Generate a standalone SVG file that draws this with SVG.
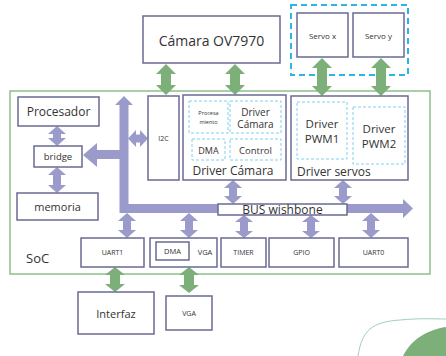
<svg xmlns="http://www.w3.org/2000/svg" width="446" height="356" viewBox="0 0 446 356">
  <style>
    .box { fill: #ffffff; stroke: #6a6a92; stroke-width: 1.5; }
    .sub { fill: #ffffff; stroke: #7fd2f0; stroke-width: 1; stroke-dasharray: 3 2; }
    .grp { fill: none; stroke: #2cb4e6; stroke-width: 2; stroke-dasharray: 6 4; }
    .soc { fill: none; stroke: #8cc088; stroke-width: 1.5; }
    .bus { fill: #9a9acb; }
    .ext { fill: #7daf78; }
    text { font-family: "Open Sans", "Noto Sans", "Liberation Sans", sans-serif; fill: #333333; text-anchor: middle; dominant-baseline: central; }
    .l { text-anchor: start; }
  </style>

  <!-- SoC boundary -->
  <rect class="soc" x="10" y="91" width="420" height="183"/>
  <text class="l" x="26" y="258" font-size="13">SoC</text>

  <!-- servo group outline -->
  <rect class="grp" x="291" y="5" width="117" height="70"/>

  <!-- corner decoration -->
  <path d="M358,356 C362,330 372,322 400,320 C420,318 435,319 446,319" fill="none" stroke="#9fcfc0" stroke-width="1"/>
  <path d="M403,356 C412,338 428,330 446,327 L446,356 Z" fill="#7daf78"/>

  <g id="connectors">
    <!-- system bus: vertical trunk, horizontal wishbone, branch to bridge -->
    <path class="bus" d="M124,96 L133,105 L128.5,105 L128.5,204 L403,204 L403,199 L413,208.5 L403,218 L403,213 L119.5,213 L119.5,159 L97,159 L97,167 L83,155 L97,143 L97,150 L119.5,150 L119.5,105 L115,105 Z"/>
    <!-- trunk to I2C -->
    <path class="bus" d="M128,138.5 L136,130 L136,134.5 L140,134.5 L140,130 L148,138.5 L140,147 L140,142.5 L136,142.5 L136,147 Z"/>
    <!-- Procesador to bridge -->
    <path class="bus" d="M57,126 L66,134 L61,134 L61,138 L66,138 L57,146 L48,138 L53,138 L53,134 L48,134 Z"/>
    <!-- bridge to memoria -->
    <path class="bus" d="M57,167 L66,175 L61,175 L61,185 L66,185 L57,193 L48,185 L53,185 L53,175 L48,175 Z"/>
    <!-- drivers to bus -->
    <path class="bus" d="M233,180 L242,188 L237,188 L237,196 L242,196 L233,204 L224,196 L229,196 L229,188 L224,188 Z"/>
    <path class="bus" d="M343,180 L352,188 L347,188 L347,196 L352,196 L343,204 L334,196 L339,196 L339,188 L334,188 Z"/>
    <!-- bus to peripherals -->
    <path class="bus" d="M127,213 L136,221 L131,221 L131,230 L136,230 L127,238 L118,230 L123,230 L123,221 L118,221 Z"/>
    <path class="bus" d="M189,213 L198,221 L193,221 L193,230 L198,230 L189,238 L180,230 L185,230 L185,221 L180,221 Z"/>
    <path class="bus" d="M244,215 L253,222 L248,222 L248,231 L253,231 L244,238 L235,231 L240,231 L240,222 L235,222 Z"/>
    <path class="bus" d="M311,215 L320,222 L315,222 L315,231 L320,231 L311,238 L302,231 L307,231 L307,222 L302,222 Z"/>
    <path class="bus" d="M371,213 L380,221 L375,221 L375,230 L380,230 L371,238 L362,230 L367,230 L367,221 L362,221 Z"/>

    <!-- external links -->
    <path class="ext" d="M166,64 L176,74 L171,74 L171,85 L176,85 L166,95 L156,85 L161,85 L161,74 L156,74 Z"/>
    <path class="ext" d="M235,64 L245,74 L240,74 L240,85 L245,85 L235,95 L225,85 L230,85 L230,74 L225,74 Z"/>
    <path class="ext" d="M322,58 L332,68 L327,68 L327,86 L332,86 L322,96 L312,86 L317,86 L317,68 L312,68 Z"/>
    <path class="ext" d="M381,58 L391,68 L386,68 L386,86 L391,86 L381,96 L371,86 L376,86 L376,68 L371,68 Z"/>
    <path class="ext" d="M115,267 L125,275 L120,275 L120,284 L125,284 L115,292 L105,284 L110,284 L110,275 L105,275 Z"/>
    <path class="ext" d="M189,267 L199,275 L194,275 L194,285 L199,285 L189,293 L179,285 L184,285 L184,275 L179,275 Z"/>
  </g>

  <g id="camara">
    <rect class="box" x="143" y="16" width="137" height="47"/>
    <text x="211.5" y="40" font-size="14">Cámara OV7970</text>
  </g>
  <g id="servo-x">
    <rect class="box" x="297" y="13" width="51" height="44"/>
    <text x="322.5" y="35" font-size="8">Servo x</text>
  </g>
  <g id="servo-y">
    <rect class="box" x="353" y="13" width="51" height="44"/>
    <text x="378.5" y="35" font-size="8">Servo y</text>
  </g>

  <g id="procesador">
    <rect class="box" x="18" y="97" width="81" height="29"/>
    <text x="58.5" y="111.5" font-size="12">Procesador</text>
  </g>
  <g id="bridge">
    <rect class="box" x="34" y="146" width="48" height="21"/>
    <text x="58" y="156.5" font-size="9.5">bridge</text>
  </g>
  <g id="memoria">
    <rect class="box" x="17" y="193" width="81" height="27"/>
    <text x="57.5" y="206.5" font-size="11">memoria</text>
  </g>

  <g id="i2c">
    <rect class="box" x="148" y="96" width="31" height="84"/>
    <text x="163.5" y="138" font-size="7">I2C</text>
  </g>

  <g id="driver-camara">
    <rect class="box" x="183" y="95" width="103" height="85"/>
    <rect class="sub" x="189" y="101" width="39" height="32"/>
    <text x="208.5" y="113" font-size="5.5">Procesa</text>
    <text x="208.5" y="121.5" font-size="5.5">miento</text>
    <rect class="sub" x="230" y="101" width="51" height="32"/>
    <text x="255.5" y="111.5" font-size="10">Driver</text>
    <text x="255.5" y="124" font-size="10">Cámara</text>
    <rect class="sub" x="192" y="139" width="33" height="21"/>
    <text x="208.5" y="150" font-size="9">DMA</text>
    <rect class="sub" x="230" y="139" width="51" height="21"/>
    <text x="255.5" y="150" font-size="9.5">Control</text>
    <text x="233" y="170.5" font-size="12">Driver Cámara</text>
  </g>

  <g id="driver-servos">
    <rect class="box" x="291" y="96" width="117" height="84"/>
    <rect class="sub" x="297" y="102" width="50" height="57"/>
    <text x="322" y="123" font-size="11.5">Driver</text>
    <text x="322" y="138.5" font-size="11.5">PWM1</text>
    <rect class="sub" x="353" y="107" width="52" height="57"/>
    <text x="379" y="128" font-size="11.5">Driver</text>
    <text x="379" y="143.5" font-size="11.5">PWM2</text>
    <text class="l" x="297" y="171.5" font-size="12">Driver servos</text>
  </g>

  <g id="bus-wishbone">
    <rect class="box" x="218" y="204" width="129" height="11" stroke-width="1"/>
    <text x="282.5" y="209.5" font-size="12">BUS wishbone</text>
  </g>

  <g id="uart1">
    <rect class="box" x="81" y="238" width="63" height="29"/>
    <text x="112.5" y="252" font-size="7">UART1</text>
  </g>
  <g id="vga">
    <rect class="box" x="150" y="238" width="67" height="29"/>
    <rect class="box" x="156" y="242" width="33" height="18"/>
    <text x="172.5" y="251" font-size="7.5">DMA</text>
    <text x="205" y="252" font-size="7.5">VGA</text>
  </g>
  <g id="timer">
    <rect class="box" x="221" y="238" width="45" height="29"/>
    <text x="243.5" y="252" font-size="7">TIMER</text>
  </g>
  <g id="gpio">
    <rect class="box" x="269" y="238" width="65" height="29"/>
    <text x="301.5" y="252" font-size="7">GPIO</text>
  </g>
  <g id="uart0">
    <rect class="box" x="339" y="238" width="69" height="29"/>
    <text x="373.5" y="252" font-size="7">UART0</text>
  </g>

  <g id="interfaz">
    <rect class="box" x="78" y="292" width="76" height="42"/>
    <text x="116" y="313" font-size="11">Interfaz</text>
  </g>
  <g id="vga-out">
    <rect class="box" x="166" y="296" width="46" height="34"/>
    <text x="189" y="313" font-size="7">VGA</text>
  </g>
</svg>
